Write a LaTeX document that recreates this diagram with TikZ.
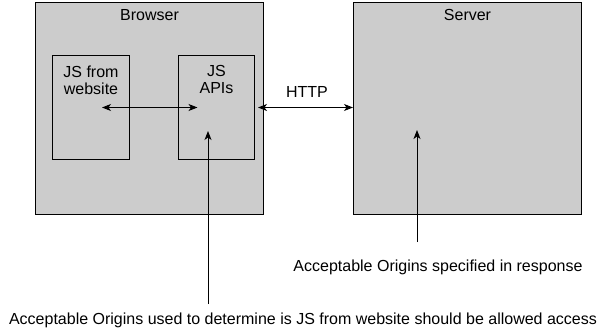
\documentclass[tikz,border=0pt]{standalone}
\usepackage{fontspec}
\setmainfont{Liberation Sans}
\usepackage{xcolor}
\usetikzlibrary{arrows.meta,positioning}
\definecolor{Panel}{HTML}{CCCCCC}
\tikzset{
  panel/.style={
    draw=black, fill=Panel, line width=1pt,
    inner sep=0pt, anchor=north west
  },
  tag/.style={font=\fontsize{16}{17}\selectfont, align=center, inner sep=0pt},
  tip/.style={Stealth[length=9pt,width=7pt,inset=2.5pt]},
  arr/.style={-{Stealth[length=9pt,width=7pt,inset=2.5pt]},line width=1pt},
  both/.style={arr,{Stealth[length=9pt,width=7pt,inset=2.5pt]}-{Stealth[length=9pt,width=7pt,inset=2.5pt]}}
}
\begin{document}
\begin{tikzpicture}[x=1pt,y=-1pt]
  \useasboundingbox (0,0) rectangle (607,334);
  % the two machines
  \node[panel,minimum width=228pt,minimum height=212pt] (browser) at (35,2) {};
  \node[panel,minimum width=228pt,minimum height=212pt] (server) at (353,2) {};
  \node[tag,anchor=base] (browserTag) at ([yshift=-19pt]browser.north) {Browser};
  \node[tag,anchor=base] (serverTag) at ([yshift=-19pt]server.north) {Server};
  % inside the browser
  \node[panel,minimum width=77pt,minimum height=104pt] (site) at (52,55) {};
  \node[panel,minimum width=76pt,minimum height=104pt] (apis) at (178,55) {};
  \node[tag,anchor=north] (siteTag) at ([yshift=-10.5pt]site.north) {JS from\\website};
  \node[tag,anchor=north] (apisTag) at ([yshift=-10.5pt]apis.north) {JS\\APIs};
  \draw[both] ([xshift=11pt]site.center) -- ([xshift=-19pt]apis.center);
  \draw[both,shorten <=3pt] (apis.east) -- (apis.east -| server.west)
    node[tag,midway,above=9pt,xshift=3pt] (http) {HTTP};
  % origin notes
  \node[tag,anchor=base] (respNote) at (438,271) {Acceptable Origins specified in response};
  \node[tag,anchor=base] (useNote) at (303,324) {Acceptable Origins used to determine is JS from website should be allowed access};
  \coordinate (srvTail) at (417,242);
  \coordinate (srvTip) at (417,130);
  \coordinate (apiTail) at (208,304);
  \coordinate (apiTip) at (208,131);
  \draw[arr] (srvTail) -- (srvTip);
  \draw[arr] (apiTail) -- (apiTip);
\end{tikzpicture}
\end{document}
